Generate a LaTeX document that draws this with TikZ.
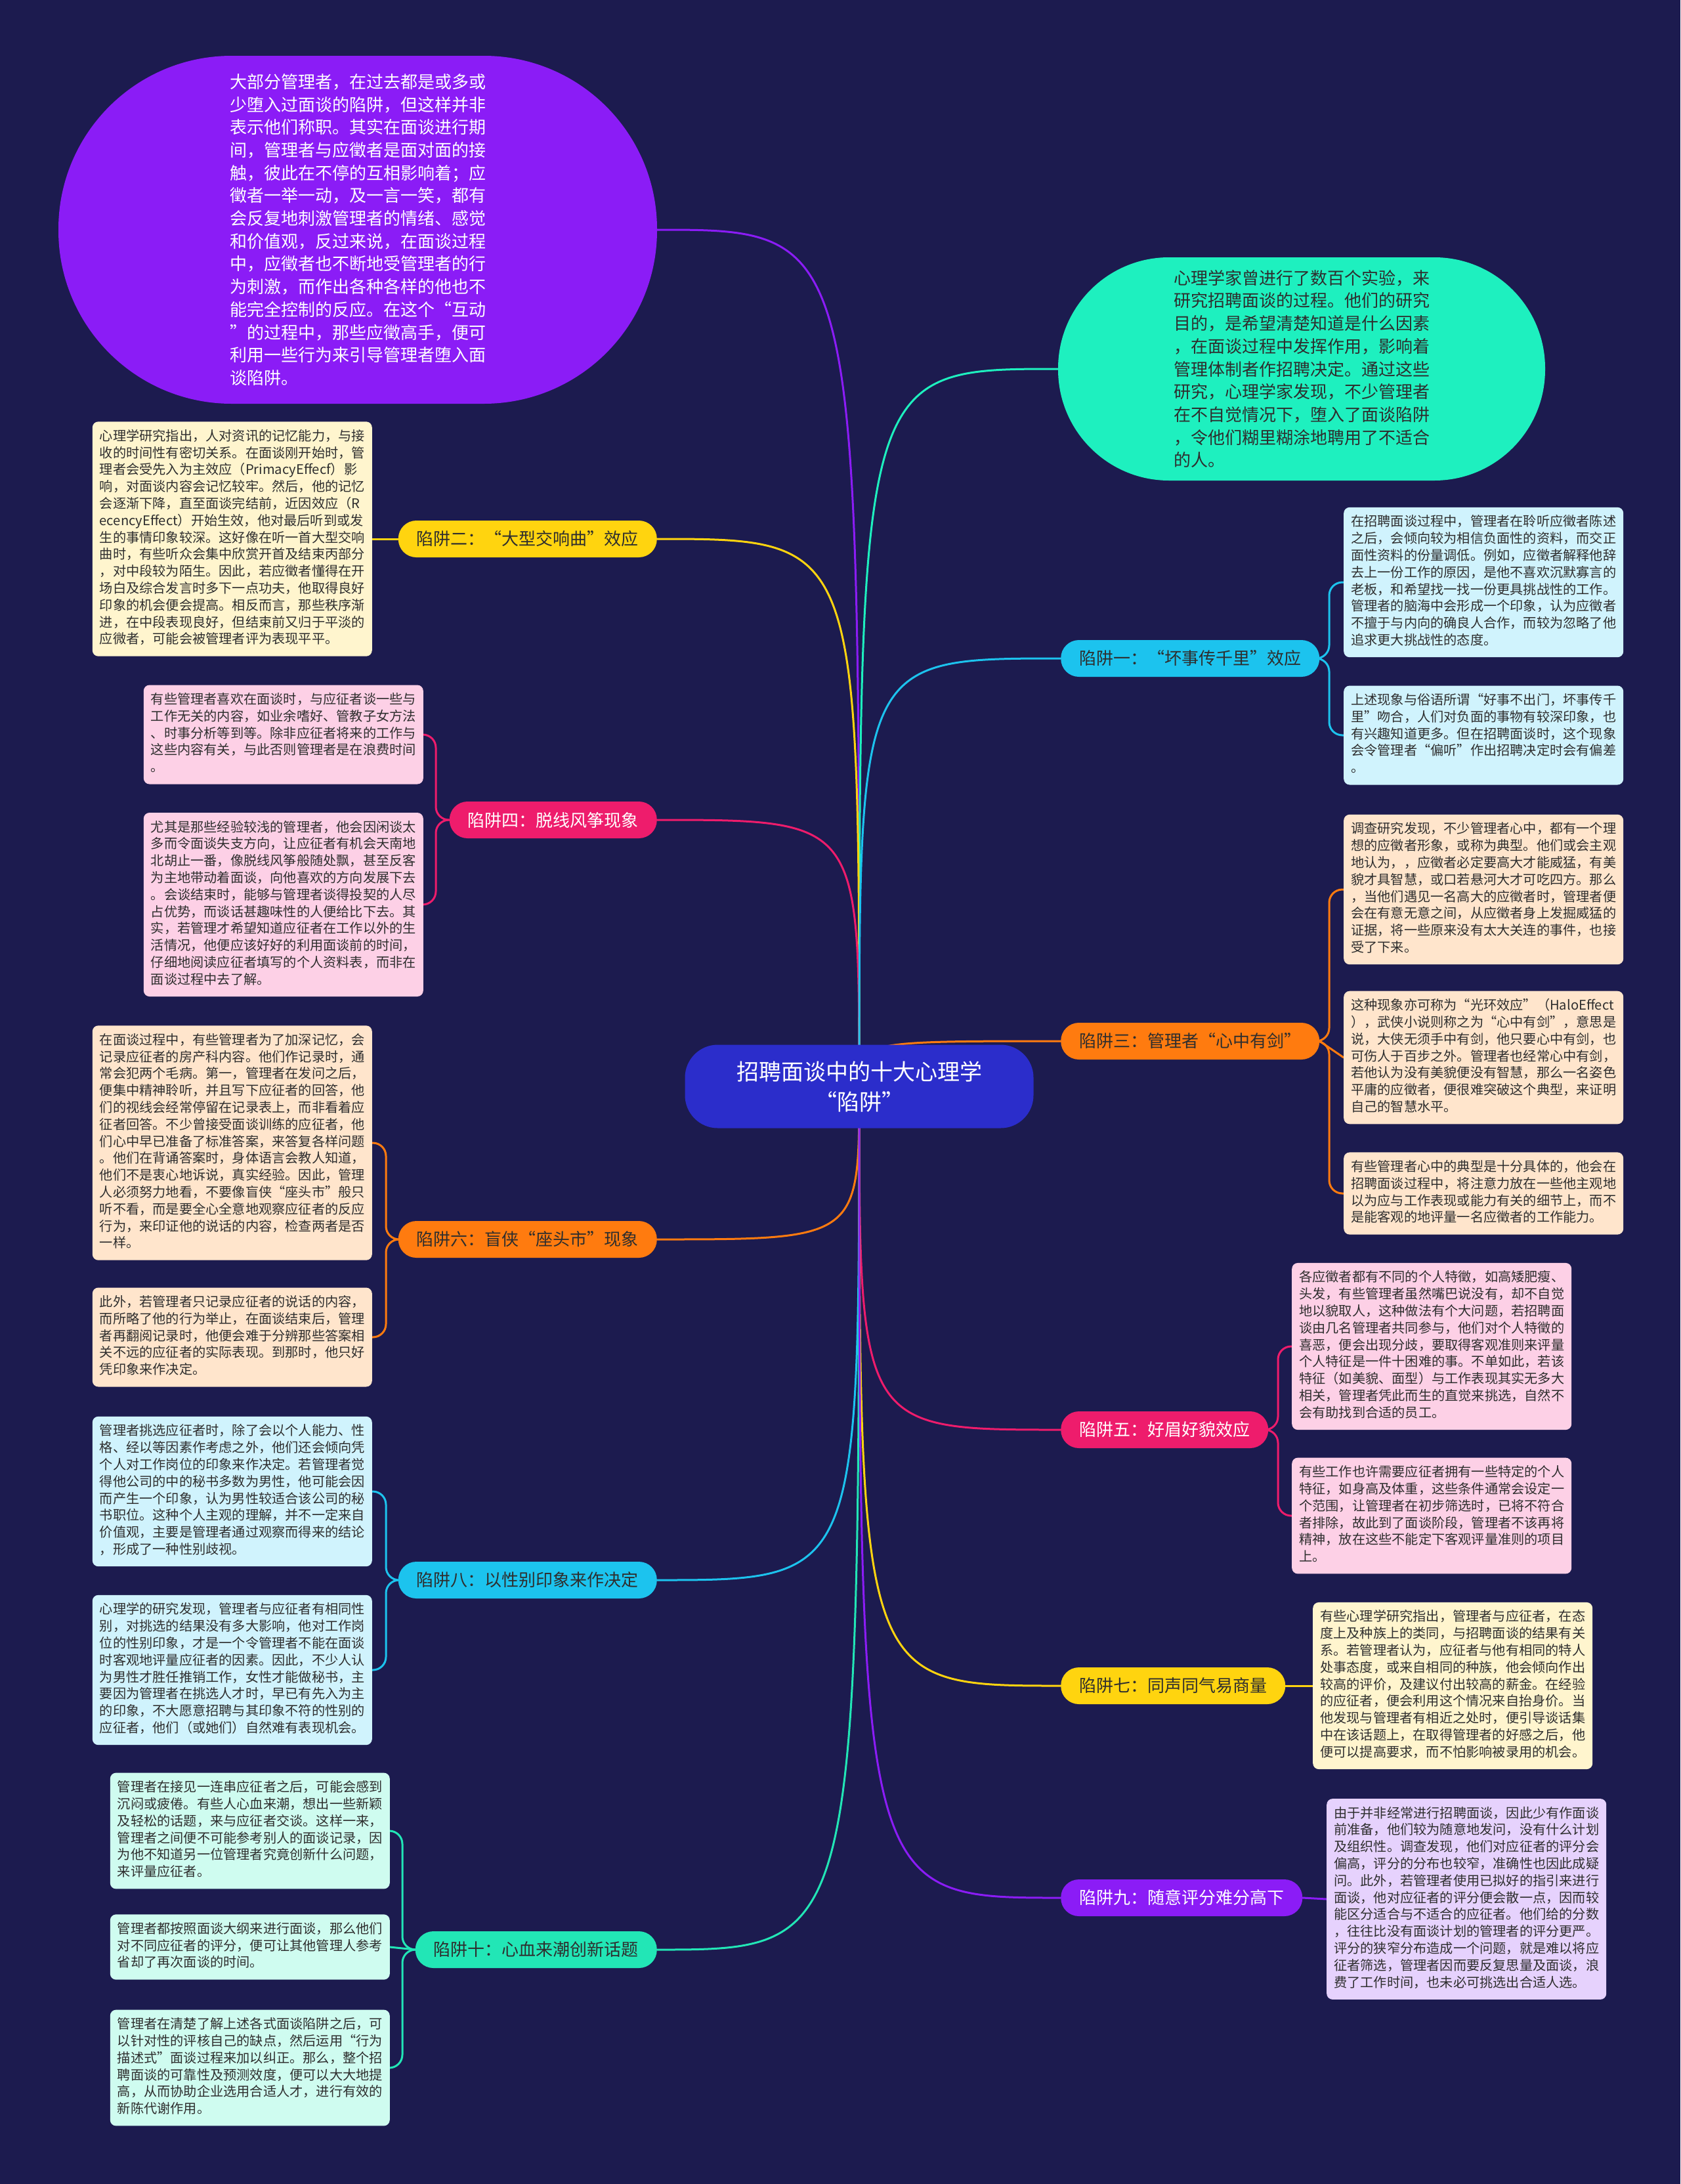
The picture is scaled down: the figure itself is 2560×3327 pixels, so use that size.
\documentclass[tikz,border=0pt]{standalone}
\usepackage{fontspec}
\setmainfont{Noto Sans CJK SC}
\pgfdeclarelayer{background}
\pgfsetlayers{background,main}
\definecolor{bg}{HTML}{1C1B4F}
\definecolor{cpurple}{HTML}{8B1CF6}
\definecolor{cteal}{HTML}{1EF0BF}
\definecolor{cyellow}{HTML}{FFD40F}
\definecolor{cpink}{HTML}{EE1C6C}
\definecolor{corange}{HTML}{FF7B0F}
\definecolor{ccyan}{HTML}{1CC3EE}
\definecolor{caqua}{HTML}{22E6B6}
\definecolor{ccenter}{HTML}{2B2DCB}
\definecolor{lyellow}{HTML}{FFF5CE}
\definecolor{lpink}{HTML}{FDD0E6}
\definecolor{lorange}{HTML}{FFE5CC}
\definecolor{lcyan}{HTML}{D0F3FD}
\definecolor{laqua}{HTML}{CFFCF0}
\definecolor{lpurple}{HTML}{E6D2FD}
\definecolor{tdark}{HTML}{2E2E2E}
\tikzset{
  link/.style={line width=3pt, line cap=round},
  bracket/.style={line width=3pt, line cap=round, rounded corners=20pt},
  pill/.style={rectangle, rounded corners=27.5pt, minimum height=56pt, inner xsep=28pt, inner ysep=0pt, font=\fontsize{26}{30}\selectfont},
  detail/.style={rectangle, rounded corners=9pt, text width=404pt, inner xsep=11pt, inner ysep=11pt, align=left, text=tdark, font=\fontsize{20.2}{25.8}\selectfont, execute at begin node=\strut, execute at end node=\strut},
  bubble/.style={rectangle, align=left, font=\fontsize{26}{34.7}\selectfont},
}
\begin{document}
\begin{tikzpicture}[x=1pt,y=-1pt]
\begin{pgfonlayer}{background}
\fill[bg] (0,0) rectangle (2560,3327);
\end{pgfonlayer}
\useasboundingbox (0,0) rectangle (2560,3327);

% root
\node[fill=ccenter, text=white, rounded corners=50pt, minimum width=531pt, minimum height=127pt, align=center, font=\fontsize{34}{46}\selectfont] (root) at (1309,1655) {招聘面谈中的十大心理学\\“陷阱”};

% intro bubbles
\node[bubble, fill=cpurple, text=white, minimum width=912pt, minimum height=530pt, rounded corners=264pt] (intro) at (545,350) {大部分管理者，在过去都是或多或\\少堕入过面谈的陷阱，但这样并非\\表示他们称职。其实在面谈进行期\\间，管理者与应徵者是面对面的接\\触，彼此在不停的互相影响着；应\\徵者一举一动，及一言一笑，都有\\会反复地刺激管理者的情绪、感觉\\和价值观，反过来说，在面谈过程\\中，应徵者也不断地受管理者的行\\为刺激，而作出各种各样的他也不\\能完全控制的反应。在这个“互动\\”的过程中，那些应徵高手，便可\\利用一些行为来引导管理者堕入面\\谈陷阱。};

\node[bubble, fill=cteal, text=tdark, minimum width=742pt, minimum height=340pt, rounded corners=169pt] (study) at (1983,562) {心理学家曾进行了数百个实验，来\\研究招聘面谈的过程。他们的研究\\目的，是希望清楚知道是什么因素\\，在面谈过程中发挥作用，影响着\\管理体制者作招聘决定。通过这些\\研究，心理学家发现，不少管理者\\在不自觉情况下，堕入了面谈陷阱\\，令他们糊里糊涂地聘用了不适合\\的人。};

% left pills
\node[pill, fill=cyellow, text=tdark, anchor=east] (p2) at (1001,821) {陷阱二：“大型交响曲”效应};
\node[pill, fill=cpink, text=white, anchor=east] (p4) at (1001,1249) {陷阱四：脱线风筝现象};
\node[pill, fill=corange, text=tdark, anchor=east] (p6) at (1001,1888) {陷阱六：盲侠“座头市”现象};
\node[pill, fill=ccyan, text=tdark, anchor=east] (p8) at (1001,2407) {陷阱八：以性别印象来作决定};
\node[pill, fill=caqua, text=tdark, anchor=east] (p10) at (1001,2970) {陷阱十：心血来潮创新话题};
% right pills
\node[pill, fill=ccyan, text=tdark, anchor=west] (p1) at (1616,1003) {陷阱一：“坏事传千里”效应};
\node[pill, fill=corange, text=tdark, anchor=west] (p3) at (1616,1586) {陷阱三：管理者“心中有剑”};
\node[pill, fill=cpink, text=white, anchor=west] (p5) at (1616,2178) {陷阱五：好眉好貌效应};
\node[pill, fill=cyellow, text=tdark, anchor=west] (p7) at (1616,2568) {陷阱七：同声同气易商量};
\node[pill, fill=cpurple, text=white, anchor=west] (p9) at (1616,2891) {陷阱九：随意评分难分高下};

% left details
\node[detail, fill=lyellow, anchor=east] (d2) at (567,821) {心理学研究指出，人对资讯的记忆能力，与接\\收的时间性有密切关系。在面谈刚开始时，管\\理者会受先入为主效应（PrimacyEffecf）影\\响，对面谈内容会记忆较牢。然后，他的记忆\\会逐渐下降，直至面谈完结前，近因效应（R\\ecencyEffect）开始生效，他对最后听到或发\\生的事情印象较深。这好像在听一首大型交响\\曲时，有些听众会集中欣赏开首及结束丙部分\\，对中段较为陌生。因此，若应徵者懂得在开\\场白及综合发言时多下一点功夫，他取得良好\\印象的机会便会提高。相反而言，那些秩序渐\\进，在中段表现良好，但结束前又归于平淡的\\应微者，可能会被管理者评为表现平平。};

\node[detail, fill=lpink, anchor=east] (d4a) at (645,1119) {有些管理者喜欢在面谈时，与应征者谈一些与\\工作无关的内容，如业余嗜好、管教子女方法\\、时事分析等到等。除非应征者将来的工作与\\这些内容有关，与此否则管理者是在浪费时间\\。};
\node[detail, fill=lpink, anchor=east] (d4b) at (645,1378) {尤其是那些经验较浅的管理者，他会因闲谈太\\多而令面谈失支方向，让应征者有机会天南地\\北胡止一番，像脱线风筝般随处飘，甚至反客\\为主地带动着面谈，向他喜欢的方向发展下去\\。会谈结束时，能够与管理者谈得投契的人尽\\占优势，而谈话甚趣味性的人便给比下去。其\\实，若管理才希望知道应征者在工作以外的生\\活情况，他便应该好好的利用面谈前的时间，\\仔细地阅读应征者填写的个人资料表，而非在\\面谈过程中去了解。};

\node[detail, fill=lorange, anchor=east] (d6a) at (567,1741) {在面谈过程中，有些管理者为了加深记忆，会\\记录应征者的房产科内容。他们作记录时，通\\常会犯两个毛病。第一，管理者在发问之后，\\便集中精神聆听，并且写下应征者的回答，他\\们的视线会经常停留在记录表上，而非看着应\\征者回答。不少曾接受面谈训练的应征者，他\\们心中早已准备了标准答案，来答复各样问题\\。他们在背诵答案时，身体语言会教人知道，\\他们不是衷心地诉说，真实经验。因此，管理\\人必须努力地看，不要像盲侠“座头市”般只\\听不看，而是要全心全意地观察应征者的反应\\行为，来印证他的说话的内容，检查两者是否\\一样。};
\node[detail, fill=lorange, anchor=east] (d6b) at (567,2037) {此外，若管理者只记录应征者的说话的内容，\\而所略了他的行为举止，在面谈结束后，管理\\者再翻阅记录时，他便会难于分辨那些答案相\\关不远的应征者的实际表现。到那时，他只好\\凭印象来作决定。};

\node[detail, fill=lcyan, anchor=east] (d8a) at (567,2272) {管理者挑选应征者时，除了会以个人能力、性\\格、经以等因素作考虑之外，他们还会倾向凭\\个人对工作岗位的印象来作决定。若管理者觉\\得他公司的中的秘书多数为男性，他可能会因\\而产生一个印象，认为男性较适合该公司的秘\\书职位。这种个人主观的理解，并不一定来自\\价值观，主要是管理者通过观察而得来的结论\\，形成了一种性别歧视。};
\node[detail, fill=lcyan, anchor=east] (d8b) at (567,2544) {心理学的研究发现，管理者与应征者有相同性\\别，对挑选的结果没有多大影响，他对工作岗\\位的性别印象，才是一个令管理者不能在面谈\\时客观地评量应征者的因素。因此，不少人认\\为男性才胜任推销工作，女性才能做秘书，主\\要因为管理者在挑选人才时，早已有先入为主\\的印象，不大愿意招聘与其印象不符的性别的\\应征者，他们（或她们）自然难有表现机会。};

\node[detail, fill=laqua, anchor=east] (d10a) at (594,2789) {管理者在接见一连串应征者之后，可能会感到\\沉闷或疲倦。有些人心血来潮，想出一些新颖\\及轻松的话题，来与应征者交谈。这样一来，\\管理者之间便不可能参考别人的面谈记录，因\\为他不知道另一位管理者究竟创新什么问题，\\来评量应征者。};
\node[detail, fill=laqua, anchor=east] (d10b) at (594,2966) {管理者都按照面谈大纲来进行面谈，那么他们\\对不同应征者的评分，便可让其他管理人参考\\省却了再次面谈的时间。};
\node[detail, fill=laqua, anchor=east] (d10c) at (594,3150) {管理者在清楚了解上述各式面谈陷阱之后，可\\以针对性的评核自己的缺点，然后运用“行为\\描述式”面谈过程来加以纠正。那么，整个招\\聘面谈的可靠性及预测效度，便可以大大地提\\高，从而协助企业选用合适人才，进行有效的\\新陈代谢作用。};

% right details
\node[detail, fill=lcyan, anchor=west] (d1a) at (2047,887) {在招聘面谈过程中，管理者在聆听应徵者陈述\\之后，会倾向较为相信负面性的资料，而交正\\面性资料的份量调低。例如，应徵者解释他辞\\去上一份工作的原因，是他不喜欢沉默寡言的\\老板，和希望找一找一份更具挑战性的工作。\\管理者的脑海中会形成一个印象，认为应徵者\\不擅于与内向的确良人合作，而较为忽略了他\\追求更大挑战性的态度。};
\node[detail, fill=lcyan, anchor=west] (d1b) at (2047,1120) {上述现象与俗语所谓“好事不出门，坏事传千\\里”吻合，人们对负面的事物有较深印象，也\\有兴趣知道更多。但在招聘面谈时，这个现象\\会令管理者“偏听”作出招聘决定时会有偏差\\。};

\node[detail, fill=lorange, anchor=west] (d3a) at (2047,1355) {调查研究发现，不少管理者心中，都有一个理\\想的应徵者形象，或称为典型。他们或会主观\\地认为，，应徵者必定要高大才能威猛，有美\\貌才具智慧，或口若悬河大才可吃四方。那么\\，当他们遇见一名高大的应徵者时，管理者便\\会在有意无意之间，从应徵者身上发掘威猛的\\证据，将一些原来没有太大关连的事件，也接\\受了下来。};
\node[detail, fill=lorange, anchor=west] (d3b) at (2047,1611) {这种现象亦可称为“光环效应”（HaloEffect\\），武侠小说则称之为“心中有剑”，意思是\\说，大侠无须手中有剑，他只要心中有剑，也\\可伤人于百步之外。管理者也经常心中有剑，\\若他认为没有美貌便没有智慧，那么一名姿色\\平庸的应徵者，便很难突破这个典型，来证明\\自己的智慧水平。};
\node[detail, fill=lorange, anchor=west] (d3c) at (2047,1818) {有些管理者心中的典型是十分具体的，他会在\\招聘面谈过程中，将注意力放在一些他主观地\\以为应与工作表现或能力有关的细节上，而不\\是能客观的地评量一名应徵者的工作能力。};

\node[detail, fill=lpink, anchor=west] (d5a) at (1968,2051) {各应徵者都有不同的个人特徵，如高矮肥瘦、\\头发，有些管理者虽然嘴巴说没有，却不自觉\\地以貌取人，这种做法有个大问题，若招聘面\\谈由几名管理者共同参与，他们对个人特徵的\\喜恶，便会出现分歧，要取得客观准则来评量\\个人特征是一件十困难的事。不单如此，若该\\特征（如美貌、面型）与工作表现其实无多大\\相关，管理者凭此而生的直觉来挑选，自然不\\会有助找到合适的员工。};
\node[detail, fill=lpink, anchor=west] (d5b) at (1968,2309) {有些工作也许需要应征者拥有一些特定的个人\\特征，如身高及体重，这些条件通常会设定一\\个范围，让管理者在初步筛选时，已将不符合\\者排除，故此到了面谈阶段，管理者不该再将\\精神，放在这些不能定下客观评量准则的项目\\上。};

\node[detail, fill=lyellow, anchor=west] (d7) at (2000,2568) {有些心理学研究指出，管理者与应征者，在态\\度上及种族上的类同，与招聘面谈的结果有关\\系。若管理者认为，应征者与他有相同的特人\\处事态度，或来自相同的种族，他会倾向作出\\较高的评价，及建议付出较高的薪金。在经验\\的应征者，便会利用这个情况来自抬身价。当\\他发现与管理者有相近之处时，便引导谈话集\\中在该话题上，在取得管理者的好感之后，他\\便可以提高要求，而不怕影响被录用的机会。};

\node[detail, fill=lpurple, anchor=west] (d9) at (2021,2893) {由于并非经常进行招聘面谈，因此少有作面谈\\前准备，他们较为随意地发问，没有什么计划\\及组织性。调查发现，他们对应征者的评分会\\偏高，评分的分布也较窄，准确性也因此成疑\\问。此外，若管理者使用已拟好的指引来进行\\面谈，他对应征者的评分便会散一点，因而较\\能区分适合与不适合的应征者。他们给的分数\\，往往比没有面谈计划的管理者的评分更严。\\评分的狭窄分布造成一个问题，就是难以将应\\征者筛选，管理者因而要反复思量及面谈，浪\\费了工作时间，也未必可挑选出合适人选。};

% bracket points
\coordinate (b4) at (664,1249);
\coordinate (b6) at (588,1888);
\coordinate (b8) at (588,2407);
\coordinate (b10) at (613,2970);
\coordinate (b1) at (2025,1003);
\coordinate (b3) at (2025,1586);
\coordinate (b5) at (1947,2178);

\begin{pgfonlayer}{background}
% main branches
\draw[link, cpurple] (root.center) .. controls (root.center |- intro.east) and (root.center |- intro.east) .. (intro.east);
\draw[link, cteal] (root.center) .. controls (root.center |- study.west) and (root.center |- study.west) .. (study.west);
\foreach \p/\c in {p2/cyellow, p4/cpink, p6/corange, p8/ccyan, p10/caqua}{
  \draw[link, \c] (root.center) .. controls (root.center |- \p.east) and (root.center |- \p.east) .. (\p.east);
}
\foreach \p/\c in {p1/ccyan, p3/corange, p5/cpink, p7/cyellow, p9/cpurple}{
  \draw[link, \c] (root.center) .. controls (root.center |- \p.west) and (root.center |- \p.west) .. (\p.west);
}
% sub branches
\draw[link, cyellow] (p2.west) -- (d2.east);
\draw[bracket, cpink] (p4.west) -- (b4) |- (d4a.east);
\draw[bracket, cpink] (p4.west) -- (b4) |- (d4b.east);
\draw[bracket, corange] (p6.west) -- (b6) |- (d6a.east);
\draw[bracket, corange] (p6.west) -- (b6) |- (d6b.east);
\draw[bracket, ccyan] (p8.west) -- (b8) |- (d8a.east);
\draw[bracket, ccyan] (p8.west) -- (b8) |- (d8b.east);
\draw[bracket, caqua] (p10.west) -- (b10) |- (d10a.east);
\draw[link, caqua] (p10.west) -- (d10b.east);
\draw[bracket, caqua] (p10.west) -- (b10) |- (d10c.east);
\draw[bracket, ccyan] (p1.east) -- (b1) |- (d1a.west);
\draw[bracket, ccyan] (p1.east) -- (b1) |- (d1b.west);
\draw[bracket, corange] (p3.east) -- (b3) |- (d3a.west);
\draw[link, corange] (p3.east) -- (d3b.west);
\draw[bracket, corange] (p3.east) -- (b3) |- (d3c.west);
\draw[bracket, cpink] (p5.east) -- (b5) |- (d5a.west);
\draw[bracket, cpink] (p5.east) -- (b5) |- (d5b.west);
\draw[link, cyellow] (p7.east) -- (d7.west);
\draw[link, cpurple] (p9.east) -- (d9.west);
\end{pgfonlayer}
\end{tikzpicture}
\end{document}
